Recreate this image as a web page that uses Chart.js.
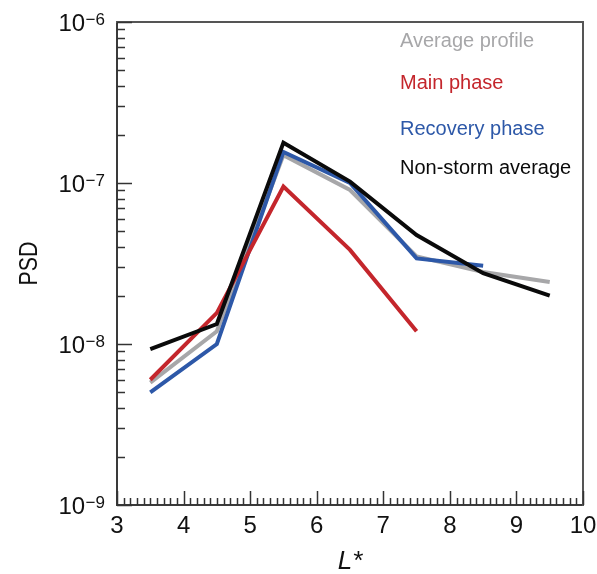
<!DOCTYPE html>
<html>
<head>
<meta charset="utf-8">
<script src="https://cdn.jsdelivr.net/npm/chart.js@4/dist/chart.umd.min.js"></script>
<style>
  html, body { margin: 0; padding: 0; background: #fff; }
  #c { display: block; }
</style>
</head>
<body>
<canvas id="c" width="597" height="574"></canvas>
<script>
// ---- data ----
const lValues        = [3.5, 4.5, 5.5, 6.5, 7.5, 8.5, 9.5];
const averageProfile = [5.75e-9, 1.2e-8, 1.49e-7, 9.05e-8, 3.5e-8, 2.8e-8, 2.43e-8];
const mainPhase      = [6.0e-9, 1.56e-8, 9.5e-8, 3.84e-8, 1.2e-8];
const recoveryPhase  = [5.0e-9, 1.0e-8, 1.56e-7, 1.0e-7, 3.4e-8, 3.06e-8];
const nonStorm       = [9.3e-9, 1.33e-8, 1.78e-7, 1.02e-7, 4.75e-8, 2.75e-8, 2.0e-8];

const seriesLabels = ['Average profile', 'Main phase', 'Recovery phase', 'Non-storm average'];
const seriesColors = ['#a7a7a9', '#c4262c', '#2d58a8', '#0a0a0a'];

const xTickLabels = [3, 4, 5, 6, 7, 8, 9, 10];
const yTickExponents = [-9, -8, -7, -6];
const yTickMantissas = [2, 3, 4, 5, 6, 7, 8, 9];
const xMinorStep = 0.1;

const xTitle = 'L*';
const yTitle = 'PSD';

function pts(vals) { return vals.map((v, i) => ({ x: lValues[i], y: v })); }

const FONT = '"Liberation Sans", Arial, sans-serif';

const decorPlugin = {
  id: 'decor',
  afterDatasetsDraw(chart) {
    const ctx = chart.ctx;
    const xs = chart.scales.x, ys = chart.scales.y;
    const a = chart.chartArea;
    ctx.save();
    // frame
    ctx.lineCap = 'square';
    ctx.lineWidth = 2;
    ctx.strokeStyle = '#3a3a3a';
    ctx.beginPath();
    ctx.moveTo(a.left, a.top); ctx.lineTo(a.left, a.bottom); ctx.lineTo(a.right, a.bottom);
    ctx.stroke();
    ctx.strokeStyle = '#555';
    ctx.beginPath();
    ctx.moveTo(a.left, a.top); ctx.lineTo(a.right, a.top); ctx.lineTo(a.right, a.bottom);
    ctx.stroke();

    // x ticks (inward)
    ctx.lineCap = 'butt';
    ctx.lineWidth = 1.5;
    ctx.strokeStyle = '#333';
    const xmin = xTickLabels[0], xmax = xTickLabels[xTickLabels.length - 1];
    const nMinor = Math.round((xmax - xmin) / xMinorStep);
    for (let i = 0; i <= nMinor; i++) {
      const v = xmin + i * xMinorStep;
      const px = Math.round(xs.getPixelForValue(v)) + 0.5;
      const major = (i % 10 === 0);
      const len = major ? 14 : 7;
      ctx.beginPath();
      ctx.moveTo(px, a.bottom);
      ctx.lineTo(px, a.bottom - len);
      ctx.stroke();
    }
    // y ticks (inward)
    for (let k = 0; k < yTickExponents.length; k++) {
      const e = yTickExponents[k];
      const py = Math.round(ys.getPixelForValue(Math.pow(10, e))) + 0.5;
      ctx.beginPath();
      ctx.moveTo(a.left, py); ctx.lineTo(a.left + 15, py);
      ctx.stroke();
      if (k < yTickExponents.length - 1) {
        for (const m of yTickMantissas) {
          const q = Math.round(ys.getPixelForValue(m * Math.pow(10, e))) + 0.5;
          ctx.beginPath();
          ctx.moveTo(a.left, q); ctx.lineTo(a.left + 8, q);
          ctx.stroke();
        }
      }
    }

    // x tick labels
    ctx.fillStyle = '#111';
    ctx.font = '24px ' + FONT;
    ctx.textAlign = 'center';
    ctx.textBaseline = 'alphabetic';
    for (const t of xTickLabels) {
      ctx.fillText(String(t), xs.getPixelForValue(t), a.bottom + 28);
    }
    // y tick labels: 10^e
    for (const e of yTickExponents) {
      const py = ys.getPixelForValue(Math.pow(10, e));
      const sup = '\u2212' + Math.abs(e);
      ctx.font = '17px ' + FONT;
      ctx.textAlign = 'right';
      const supRight = a.left - 12;
      const supW = ctx.measureText(sup).width;
      ctx.fillText(sup, supRight, py + 3);
      ctx.font = '24px ' + FONT;
      ctx.fillText('10', supRight - supW - 0.5, py + 9);
    }

    // axis titles
    ctx.font = 'italic 26px ' + FONT;
    ctx.textAlign = 'center';
    ctx.fillText(xTitle, (a.left + a.right) / 2, 569);
    ctx.save();
    ctx.translate(37, (a.top + a.bottom) / 2);
    ctx.rotate(-Math.PI / 2);
    ctx.scale(0.82, 1);
    ctx.font = '26px ' + FONT;
    ctx.textAlign = 'center';
    ctx.fillText(yTitle, 0, 0);
    ctx.restore();

    // legend (text only, coloured)
    const legendBaselines = [46.5, 88.5, 135, 173.5];
    ctx.font = '20px ' + FONT;
    ctx.textAlign = 'left';
    chart.data.datasets.forEach((ds, i) => {
      ctx.fillStyle = ds.borderColor;
      ctx.fillText(ds.label, 400, legendBaselines[i]);
    });
    ctx.restore();
  }
};

const mk = (i, vals, order) => ({
  label: seriesLabels[i],
  data: pts(vals),
  borderColor: seriesColors[i],
  backgroundColor: seriesColors[i],
  borderWidth: 4,
  pointRadius: 0,
  tension: 0,
  fill: false,
  borderJoinStyle: 'miter',
  order: order
});

new Chart(document.getElementById('c'), {
  type: 'line',
  data: {
    datasets: [
      mk(0, averageProfile, 4),
      mk(1, mainPhase, 2),
      mk(2, recoveryPhase, 3),
      mk(3, nonStorm, 1)
    ]
  },
  options: {
    responsive: false,
    animation: false,
    devicePixelRatio: 1,
    layout: { padding: { left: 117, right: 14, top: 22, bottom: 69 } },
    plugins: { legend: { display: false }, tooltip: { enabled: false } },
    scales: {
      x: { type: 'linear', min: 3, max: 10, display: false },
      y: { type: 'logarithmic', min: 1e-9, max: 1e-6, display: false }
    }
  },
  plugins: [decorPlugin]
});
</script>
</body>
</html>
